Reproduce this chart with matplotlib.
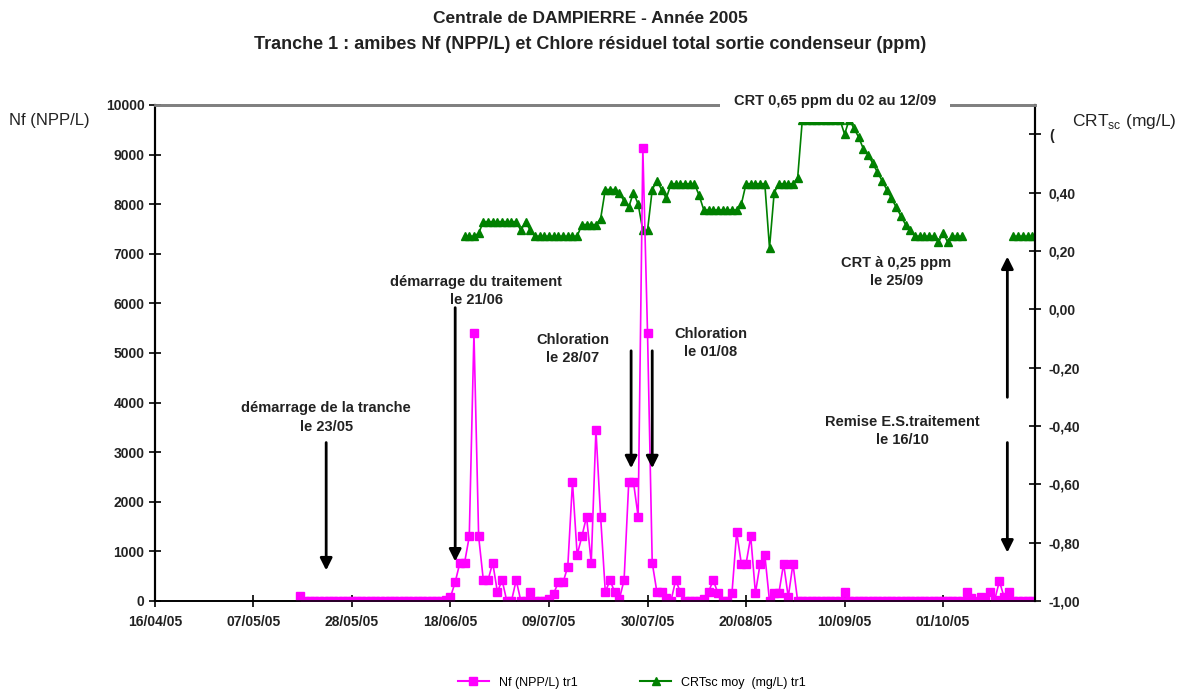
import datetime as dt
import numpy as np
import matplotlib
matplotlib.use("Agg")
import matplotlib.pyplot as plt
import matplotlib.dates as mdates
from matplotlib.lines import Line2D
from matplotlib.ticker import FixedLocator, FixedFormatter

plt.rcParams['font.family'] = ['Liberation Sans', 'DejaVu Sans']

start = dt.datetime(2005, 4, 16)

# Nf (NPP/L) tr1 : one value per day, from day 31 to day 188 after 16/04/05
nf_days = list(range(31, 189))
nf_vals = ([100] + [0] * 30 +
           [20, 80, 380, 770, 770, 1300, 5400, 1300, 420, 420, 770, 180, 420, 0, 0, 420,
            0, 0, 180, 0, 0, 0, 40, 150, 380, 380, 690, 2400, 930, 1300, 1700, 770,
            3450, 1700, 180, 420, 180, 40, 420, 2400, 2400, 1700, 9130, 5400, 770, 180,
            180, 60, 0, 420, 180, 0, 0, 0, 0, 40, 180, 420, 160, 0, 0, 160, 1390, 750,
            750, 1300, 160, 750, 930, 0, 160, 160, 750, 80, 750, 0] +
           [0] * 9 + [180] + [0] * 25 +
           [180, 50, 0, 80, 0, 180, 20, 400, 80, 180] + [0] * 6)

# CRTsc moy (mg/L) tr1 : days 66 to 188, gap = no measure
crt_days = list(range(66, 189))
crt_vals = ([0.25, 0.25, 0.25, 0.26] + [0.30] * 8 + [0.27, 0.30, 0.27] + [0.25] * 10 +
            [0.29] * 4 + [0.31, 0.41, 0.41, 0.41, 0.40, 0.37, 0.35, 0.40, 0.36, 0.27,
                          0.27, 0.41, 0.44, 0.41, 0.38] +
            [0.43] * 6 + [0.39] + [0.34] * 8 + [0.36] + [0.43] * 5 + [0.21, 0.40] +
            [0.43] * 4 + [0.45] + [0.65] * 9 +
            [0.60, 0.65, 0.62, 0.59, 0.55, 0.53, 0.50, 0.47, 0.44, 0.41, 0.38, 0.35,
             0.32, 0.29, 0.27] +
            [0.25] * 5 + [0.23, 0.26, 0.23] + [0.25] * 3 + [np.nan] * 10 + [0.25] * 6)

xtick_days = [0, 21, 42, 63, 84, 105, 126, 147, 168]
crt_ticks = [-1.0, -0.8, -0.6, -0.4, -0.2, 0.0, 0.2, 0.4, 0.6]
crt_labels = ['-1,00', '-0,80', '-0,60', '-0,40', '-0,20', '0,00', '0,20', '0,40', '(']

def to_dates(days):
    return [start + dt.timedelta(days=d) for d in days]

fig = plt.figure(figsize=(11.81, 6.93), dpi=100)
ax = fig.add_axes([0.1312, 0.1328, 0.7452, 0.7157])
ax2 = ax.twinx()
ax.set_zorder(ax2.get_zorder() + 1)
ax.patch.set_visible(False)

green = '#008000'
pink = '#FF00FF'

ax2.plot(to_dates(crt_days), crt_vals, color=green, marker='^', ms=6, lw=1.2)
ax.plot(to_dates(nf_days), nf_vals, color=pink, marker='s', ms=6, lw=1.2)

ax.set_xlim(start, start + dt.timedelta(days=187.6))
ax.set_ylim(0, 10000)
ax2.set_ylim(-1.0, 0.7)

ax.set_xticks(to_dates(xtick_days))
ax.xaxis.set_major_formatter(mdates.DateFormatter('%d/%m/%y'))
ax.set_yticks(range(0, 10001, 1000))
ax2.yaxis.set_major_locator(FixedLocator(crt_ticks))
ax2.yaxis.set_major_formatter(FixedFormatter(crt_labels))

for a in (ax, ax2):
    a.tick_params(direction='inout', length=8, width=1.2, labelsize=10)
    for lab in a.get_xticklabels() + a.get_yticklabels():
        lab.set_fontweight('bold')
        lab.set_color('#222222')
    a.spines['top'].set_color('#808080')
    a.spines['top'].set_linewidth(2)
    a.spines['left'].set_linewidth(1.5)
    a.spines['right'].set_linewidth(1.5)
    a.spines['bottom'].set_linewidth(1.2)
ax.xaxis.set_tick_params(pad=6)
ax2.yaxis.set_tick_params(pad=6)

def note(d, y, s):
    ax.text(start + dt.timedelta(days=d), y, s, ha='center', va='center',
            fontsize=10.5, fontweight='bold', color='#222222', linespacing=1.4)

def arrow(d, y0, y1):
    x = start + dt.timedelta(days=d)
    ax.annotate('', xy=(x, y1), xytext=(x, y0),
                arrowprops=dict(arrowstyle='-|>', lw=2, color='black', mutation_scale=18))

note(36.5, 3700, 'démarrage de la tranche\nle 23/05')
arrow(36.5, 3250, 560)
note(68.5, 6250, 'démarrage du traitement\nle 21/06')
arrow(64, 5970, 740)
note(89, 5080, 'Chloration\nle 28/07')
note(118.5, 5200, 'Chloration\nle 01/08')
arrow(101.5, 5100, 2620)
arrow(106, 5100, 2620)
note(158, 6630, 'CRT à 0,25 ppm\nle 25/09')
note(159.3, 3430, 'Remise E.S.traitement\nle 16/10')
arrow(181.7, 4050, 7000)
arrow(181.7, 3250, 920)

ax.text(start + dt.timedelta(days=145), 10080, 'CRT 0,65 ppm du 02 au 12/09',
        ha='center', va='center', fontsize=10.5, fontweight='bold', color='#222222',
        bbox=dict(facecolor='white', edgecolor='none', pad=10), clip_on=False, zorder=5)

fig.text(0.5, 0.973, 'Centrale de DAMPIERRE - Année 2005', ha='center', va='center',
         fontsize=12.5, fontweight='bold', color='#222222')
fig.text(0.5, 0.936, 'Tranche 1 : amibes Nf (NPP/L) et Chlore résiduel total sortie condenseur (ppm)',
         ha='center', va='center', fontsize=13, fontweight='bold', color='#222222')
fig.text(0.008, 0.826, 'Nf (NPP/L)', ha='left', va='center', fontsize=12, color='#222222')
fig.text(0.996, 0.824, 'CRT$_{\\mathregular{sc}}$ (mg/L)', ha='right', va='center',
         fontsize=12.5, color='#222222')

handles = [Line2D([], [], color=pink, marker='s', ms=6, lw=1.5),
           Line2D([], [], color=green, marker='^', ms=6, lw=1.5)]
fig.legend(handles, ['Nf (NPP/L) tr1', 'CRTsc moy  (mg/L) tr1'], loc='center',
           bbox_to_anchor=(0.535, 0.015), ncol=2, frameon=False, fontsize=9,
           handlelength=2.5, columnspacing=5)

fig.savefig('out.png', dpi=100)
